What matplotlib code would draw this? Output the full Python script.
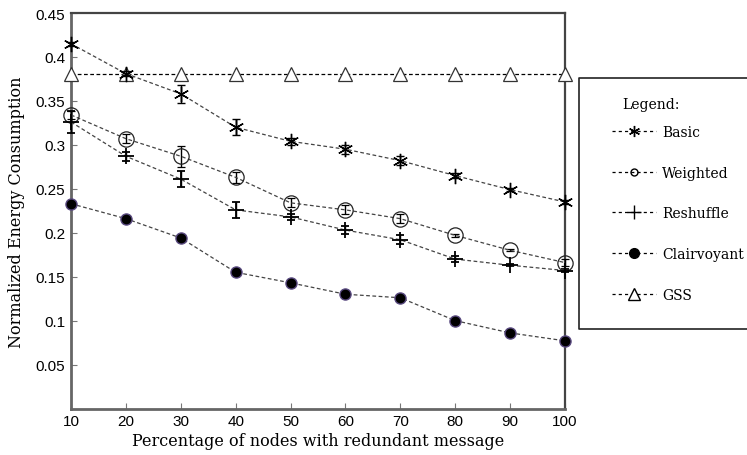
import matplotlib.pyplot as plt
from matplotlib.lines import Line2D

# percentage of nodes carrying a redundant message
pct = [10, 20, 30, 40, 50, 60, 70, 80, 90, 100]

basic = [0.415, 0.381, 0.358, 0.320, 0.304, 0.295, 0.282, 0.265, 0.249, 0.235]
basic_err = [0.002, 0.003, 0.010, 0.009, 0.004, 0.005, 0.005, 0.003, 0.002, 0.002]

weighted = [0.334, 0.307, 0.287, 0.263, 0.234, 0.226, 0.216, 0.197, 0.180, 0.166]
weighted_err = [0.005, 0.005, 0.012, 0.006, 0.005, 0.005, 0.005, 0.002, 0.001, 0.004]

reshuffle = [0.326, 0.287, 0.261, 0.226, 0.218, 0.203, 0.192, 0.170, 0.163, 0.157]
reshuffle_err = [0.012, 0.005, 0.009, 0.009, 0.003, 0.005, 0.005, 0.003, 0.001, 0.002]

clairvoyant = [0.233, 0.216, 0.194, 0.155, 0.143, 0.130, 0.126, 0.100, 0.086, 0.077]

gss = [0.381] * 10

yticks = [0.05, 0.1, 0.15, 0.2, 0.25, 0.3, 0.35, 0.4, 0.45]
ytick_labels = ['0.05', '0.1', '0.15', '0.2', '0.25', '0.3', '0.35', '0.4', '0.45']

serif = ['DejaVu Serif']
sans = ['Liberation Sans', 'DejaVu Sans']

W, H = 747, 456
fig = plt.figure(figsize=(W / 100, H / 100), dpi=100)
ax = fig.add_axes([71 / W, 1 - 409.5 / H, (565 - 71) / W, (409.5 - 14) / H])

line_kw = dict(color='#444444', linestyle=(0, (3, 2)), linewidth=0.9, clip_on=False)
err_kw = dict(ecolor='black', elinewidth=1.0, capsize=3, capthick=1.0)

ax.plot(pct, gss, color='black', linestyle=(0, (3, 2)), linewidth=0.9,
        marker='^', markersize=10, markerfacecolor='white',
        markeredgecolor='#333333', markeredgewidth=0.9, clip_on=False, zorder=3)

ax.errorbar(pct, basic, yerr=basic_err, marker=(6, 2, 0), markersize=11,
            markeredgecolor='black', markeredgewidth=1.0, **line_kw, **err_kw, zorder=4)
ax.errorbar(pct, weighted, yerr=weighted_err, marker='o', markersize=11,
            markerfacecolor='none', markeredgecolor='#222222', markeredgewidth=0.9,
            **line_kw, **err_kw, zorder=4)
ax.errorbar(pct, reshuffle, yerr=reshuffle_err, marker='+', markersize=12,
            markeredgecolor='black', markeredgewidth=1.3, **line_kw, **err_kw, zorder=4)
ax.plot(pct, clairvoyant, marker='o', markersize=8, markerfacecolor='black',
        markeredgecolor='#5a4a80', markeredgewidth=1.0, **line_kw, zorder=4)

ax.set_xlim(10, 100)
ax.set_ylim(0, 0.45)
ax.set_xticks(pct)
ax.set_xticklabels([str(p) for p in pct], family=sans, fontsize=11)
ax.set_yticks(yticks)
ax.set_yticklabels(ytick_labels, family=sans, fontsize=11)
ax.tick_params(direction='in', length=4, color='#777777', width=0.8, pad=4)

for side in ['left', 'bottom']:
    ax.spines[side].set_color('#666666')
    ax.spines[side].set_linewidth(2.0)
for side in ['top', 'right']:
    ax.spines[side].set_color('#444444')
    ax.spines[side].set_linewidth(1.6)

ax.set_xlabel('Percentage of nodes with redundant message', family=serif, fontsize=11.5, labelpad=3)
ax.set_ylabel('Normalized Energy Consumption', family=serif, fontsize=11.5, labelpad=8)

# legend box outside the axes: open on the right, it runs off the figure edge
x0, x1 = 578.5 / W, 800 / W
y0, y1 = 1 - 330 / H, 1 - 79 / H
frame = Line2D([x1, x0, x0, x1], [y1, y1, y0, y0], transform=fig.transFigure,
               color='#222222', linewidth=1.2, clip_on=False)
fig.lines.append(frame)
fig.text(651 / W, 1 - 105 / H, 'Legend:', family=serif, fontsize=10, ha='center', va='center')

dash = (0, (2.5, 2.5))
handles = [
    Line2D([], [], color='black', linestyle=dash, linewidth=0.9, marker=(6, 2, 0), markersize=8),
    Line2D([], [], color='black', linestyle=dash, linewidth=0.9, marker='o', markersize=5,
           markerfacecolor='none'),
    Line2D([], [], color='black', linestyle=dash, linewidth=0.9, marker='+', markersize=10),
    Line2D([], [], color='black', linestyle=dash, linewidth=0.9, marker='o', markersize=7),
    Line2D([], [], color='black', linestyle=dash, linewidth=0.9, marker='^', markersize=9,
           markerfacecolor='white'),
]
labels = ['Basic', 'Weighted', 'Reshuffle', 'Clairvoyant', 'GSS']
fig.legend(handles, labels, loc='upper left', bbox_to_anchor=(612 / W, 1 - 126 / H),
           prop={'family': serif, 'size': 10}, frameon=False,
           handlelength=3.2, handletextpad=0.4, labelspacing=1.92,
           borderpad=0, borderaxespad=0)

fig.savefig('out.png', dpi=100)
